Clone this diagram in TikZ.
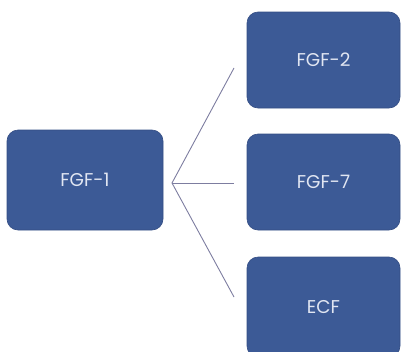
\documentclass[tikz,border=0pt]{standalone}
\usepackage{fontspec}
\setmainfont{Poppins}

\tikzset{
    fgfbox/.style={draw={rgb,255:red,52;green,78;blue,132}, line width=0.6pt, fill={rgb,255:red,60;green,90;blue,150},
        rounded corners=11pt, minimum width=153pt, minimum height=96pt,
        text={rgb,255:red,225;green,230;blue,242}, font=\fontsize{18.5}{20}\selectfont},
    branch/.style={draw={rgb,255:red,125;green,125;blue,160}, line width=0.9pt}
}

\begin{document}
\begin{tikzpicture}[x=1pt,y=-1pt]
    \useasboundingbox (0,0) rectangle (401,351);

    \node[fgfbox, minimum width=156pt, minimum height=100pt](fgf1) at (85,180){FGF-1};
    \node[fgfbox](fgf2) at (323.5,60){FGF-2};
    \node[fgfbox](fgf7) at (323.5,182){FGF-7};
    \node[fgfbox, minimum height=100pt](ecf) at (323.5,307){ECF};

    \coordinate (hub) at (172,183);
    \coordinate (top) at (234,68);
    \coordinate (mid) at (234,183);
    \coordinate (bot) at (234,297);

    \draw[branch](top)--(hub)--(bot);
    \draw[branch](hub)--(mid);
\end{tikzpicture}
\end{document}
